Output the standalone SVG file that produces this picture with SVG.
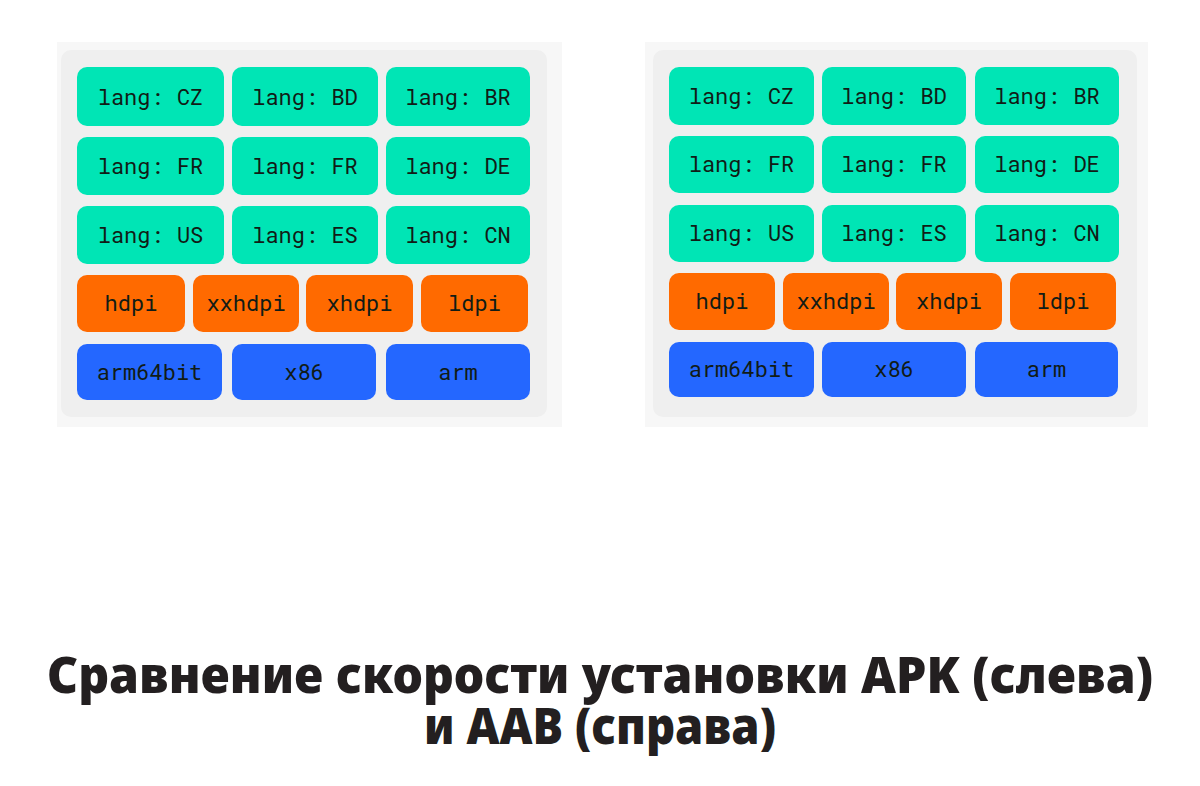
<svg xmlns="http://www.w3.org/2000/svg" width="1200" height="786" viewBox="0 0 1200 786">
<style>
.outer{fill:#f7f7f7}
.inner{fill:#efefef}
.t{fill:#00e5b5}
.o{fill:#ff6a00}
.b{fill:#2467ff}
.lbl{font-family:"Roboto Mono","DejaVu Sans Mono","Liberation Mono",monospace;font-size:22px;font-weight:400;fill:#111c16;text-anchor:middle}
.title{font-family:"Noto Sans","Open Sans",sans-serif;font-weight:900;font-size:50px;fill:#231f20;text-anchor:middle}
</style>
<rect width="1200" height="786" fill="#ffffff"/>
<g id="panel-left">
<rect class="outer" x="57" y="42" width="505" height="385"/>
<rect class="inner" x="61" y="50" width="486" height="367" rx="10"/>
</g>
<g id="panel-right">
<rect class="outer" x="645" y="42" width="503" height="385"/>
<rect class="inner" x="653" y="50" width="484" height="367" rx="10"/>
</g>
<g id="L-cz"><rect class="t" x="77" y="67" width="147" height="59" rx="10"/><text class="lbl" x="150.5" y="105">lang: CZ</text></g>
<g id="L-bd"><rect class="t" x="232" y="67" width="146" height="59" rx="10"/><text class="lbl" x="305" y="105">lang: BD</text></g>
<g id="L-br"><rect class="t" x="386" y="67" width="144" height="59" rx="10"/><text class="lbl" x="458" y="105">lang: BR</text></g>
<g id="L-fr1"><rect class="t" x="77" y="137" width="147" height="58" rx="10"/><text class="lbl" x="150.5" y="174">lang: FR</text></g>
<g id="L-fr2"><rect class="t" x="232" y="137" width="146" height="58" rx="10"/><text class="lbl" x="305" y="174">lang: FR</text></g>
<g id="L-de"><rect class="t" x="386" y="137" width="144" height="58" rx="10"/><text class="lbl" x="458" y="174">lang: DE</text></g>
<g id="L-us"><rect class="t" x="77" y="206" width="147" height="58" rx="10"/><text class="lbl" x="150.5" y="243">lang: US</text></g>
<g id="L-es"><rect class="t" x="232" y="206" width="146" height="58" rx="10"/><text class="lbl" x="305" y="243">lang: ES</text></g>
<g id="L-cn"><rect class="t" x="386" y="206" width="144" height="58" rx="10"/><text class="lbl" x="458" y="243">lang: CN</text></g>
<g id="L-hdpi"><rect class="o" x="77" y="275" width="108" height="57" rx="10"/><text class="lbl" x="131" y="311">hdpi</text></g>
<g id="L-xxhdpi"><rect class="o" x="193" y="275" width="106" height="57" rx="10"/><text class="lbl" x="246" y="311">xxhdpi</text></g>
<g id="L-xhdpi"><rect class="o" x="306" y="275" width="107" height="57" rx="10"/><text class="lbl" x="359.5" y="311">xhdpi</text></g>
<g id="L-ldpi"><rect class="o" x="421" y="275" width="107" height="57" rx="10"/><text class="lbl" x="474.5" y="311">ldpi</text></g>
<g id="L-arm64"><rect class="b" x="77" y="344" width="145" height="56" rx="10"/><text class="lbl" x="149.5" y="380">arm64bit</text></g>
<g id="L-x86"><rect class="b" x="232" y="344" width="144" height="56" rx="10"/><text class="lbl" x="304" y="380">x86</text></g>
<g id="L-arm"><rect class="b" x="386" y="344" width="144" height="56" rx="10"/><text class="lbl" x="458" y="380">arm</text></g>
<g id="R-cz"><rect class="t" x="669" y="67" width="145" height="58" rx="10"/><text class="lbl" x="741.5" y="104">lang: CZ</text></g>
<g id="R-bd"><rect class="t" x="822" y="67" width="144" height="58" rx="10"/><text class="lbl" x="894" y="104">lang: BD</text></g>
<g id="R-br"><rect class="t" x="975" y="67" width="144" height="58" rx="10"/><text class="lbl" x="1047" y="104">lang: BR</text></g>
<g id="R-fr1"><rect class="t" x="669" y="136" width="145" height="57" rx="10"/><text class="lbl" x="741.5" y="172">lang: FR</text></g>
<g id="R-fr2"><rect class="t" x="822" y="136" width="144" height="57" rx="10"/><text class="lbl" x="894" y="172">lang: FR</text></g>
<g id="R-de"><rect class="t" x="975" y="136" width="144" height="57" rx="10"/><text class="lbl" x="1047" y="172">lang: DE</text></g>
<g id="R-us"><rect class="t" x="669" y="205" width="145" height="57" rx="10"/><text class="lbl" x="741.5" y="241">lang: US</text></g>
<g id="R-es"><rect class="t" x="822" y="205" width="144" height="57" rx="10"/><text class="lbl" x="894" y="241">lang: ES</text></g>
<g id="R-cn"><rect class="t" x="975" y="205" width="144" height="57" rx="10"/><text class="lbl" x="1047" y="241">lang: CN</text></g>
<g id="R-hdpi"><rect class="o" x="669" y="273" width="106" height="57" rx="10"/><text class="lbl" x="722" y="309">hdpi</text></g>
<g id="R-xxhdpi"><rect class="o" x="783" y="273" width="106" height="57" rx="10"/><text class="lbl" x="836" y="309">xxhdpi</text></g>
<g id="R-xhdpi"><rect class="o" x="896" y="273" width="106" height="57" rx="10"/><text class="lbl" x="949" y="309">xhdpi</text></g>
<g id="R-ldpi"><rect class="o" x="1010" y="273" width="106" height="57" rx="10"/><text class="lbl" x="1063" y="309">ldpi</text></g>
<g id="R-arm64"><rect class="b" x="669" y="342" width="145" height="55" rx="10"/><text class="lbl" x="741.5" y="377">arm64bit</text></g>
<g id="R-x86"><rect class="b" x="822" y="342" width="144" height="55" rx="10"/><text class="lbl" x="894" y="377">x86</text></g>
<g id="R-arm"><rect class="b" x="975" y="342" width="143" height="55" rx="10"/><text class="lbl" x="1046.5" y="377">arm</text></g>
<g id="connectors"/>
<g id="title">
<text class="title" x="600" y="693" textLength="1106" lengthAdjust="spacingAndGlyphs">Сравнение скорости установки APK (слева)</text>
<text class="title" x="600" y="744" textLength="352" lengthAdjust="spacingAndGlyphs">и AAB (справа)</text>
</g>
</svg>
